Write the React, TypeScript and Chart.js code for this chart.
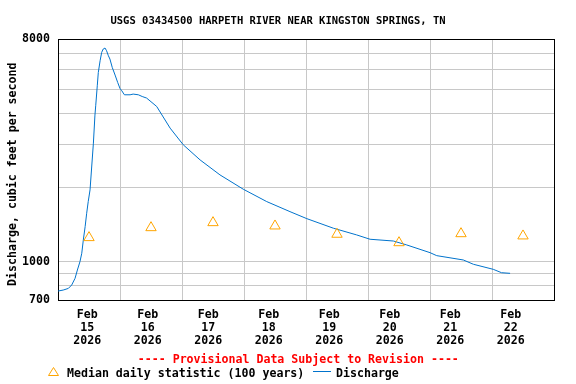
import React, { useEffect, useRef } from 'react';
import { Chart, registerables } from 'chart.js';

Chart.register(...registerables);

const TITLE = 'USGS 03434500 HARPETH RIVER NEAR KINGSTON SPRINGS, TN';
const Y_TITLE = 'Discharge, cubic feet per second';
const PROVISIONAL = '---- Provisional Data Subject to Revision ----';
const LEGEND_MEDIAN = 'Median daily statistic (100 years)';
const LEGEND_DISCHARGE = 'Discharge';

const DAY_MONTH = 'Feb';
const DAY_NUMBERS = ['15', '16', '17', '18', '19', '20', '21', '22'];
const DAY_YEAR = '2026';

// Median daily statistic, one per day (plotted at noon)
const MEDIAN_CFS = [1253, 1375, 1441, 1397, 1293, 1195, 1300, 1273];

// Discharge: hours since Feb 15 00:00, cfs
const DISCHARGE_HOURS = [
  0, 2, 4, 5.3, 6.6, 7.5, 8.5, 9.2, 9.8, 10.5, 11.1, 11.7, 12.4, 13.7, 14.3, 14.6,
  15.2, 15.6, 16.3, 16.9, 17.5, 18.2, 18.8, 19.5, 20.1, 21, 22.1, 23.1, 24, 24.7,
  25.7, 27.9, 29.1, 31.1, 32.6, 34.3, 38.2, 43.4, 48.5, 55, 62.7, 71.7, 80.8, 89.8,
  96.3, 106.6, 115.6, 120.8, 129.8, 135, 144, 146.6, 156.9, 160.8, 168.5, 171.7, 175,
];
const DISCHARGE_CFS = [
  761, 768, 780, 805, 857, 926, 1001, 1083, 1226, 1388, 1573, 1754, 1956, 3027, 3932, 4289,
  5170, 5853, 6530, 7058, 7285, 7354, 7170, 6843, 6634, 6134, 5713, 5333, 5040, 4934,
  4753, 4753, 4784, 4753, 4677, 4610, 4262, 3482, 2979, 2588, 2250, 1969, 1754, 1597,
  1496, 1368, 1285, 1234, 1214, 1170, 1089, 1059, 1017, 977, 932, 903, 898,
];

const Y_GRID_VALUES = [700, 800, 900, 1000, 2000, 3000, 4000, 5000, 6000, 7000, 8000];
const Y_LABELED = [700, 1000, 8000];

const X_MIN = 0;
const X_MAX = DAY_NUMBERS.length * 24;
const LABEL_START_H = 11.34;
const LABEL_STEP_H = 23.42;

const FONT_FAMILY = '"DejaVu Sans Mono", monospace';
const LINE_COLOR = 'rgb(0,115,204)';
const MEDIAN_COLOR = '#ffa500';
const GRID_COLOR = 'rgb(200,200,200)';

const labelPositions = DAY_NUMBERS.map((_, i) => LABEL_START_H + LABEL_STEP_H * i);
const gridPositions = Array.from({ length: DAY_NUMBERS.length + 1 }, (_, i) => i * 24);

const textPlugin = {
  id: 'usgsText',
  afterDraw(chart: any) {
    const ctx = chart.ctx as CanvasRenderingContext2D;
    ctx.save();
    ctx.fillStyle = '#000';
    ctx.textBaseline = 'alphabetic';
    ctx.textAlign = 'center';
    ctx.font = `bold 10.5px ${FONT_FAMILY}`;
    ctx.fillText(TITLE, 278, 24);

    ctx.font = `bold 11.6px ${FONT_FAMILY}`;
    ctx.save();
    ctx.translate(16, 174.2);
    ctx.rotate(-Math.PI / 2);
    ctx.fillText(Y_TITLE, 0, 0);
    ctx.restore();

    ctx.fillStyle = '#ff0000';
    ctx.fillText(PROVISIONAL, 298.3, 363);

    // legend
    ctx.strokeStyle = MEDIAN_COLOR;
    ctx.lineWidth = 1;
    ctx.beginPath();
    ctx.moveTo(53.5, 367.5);
    ctx.lineTo(48.5, 375.5);
    ctx.lineTo(58.5, 375.5);
    ctx.closePath();
    ctx.stroke();

    ctx.fillStyle = '#000';
    ctx.textAlign = 'left';
    ctx.fillText(LEGEND_MEDIAN, 67, 377);

    ctx.strokeStyle = LINE_COLOR;
    ctx.beginPath();
    ctx.moveTo(313, 371.5);
    ctx.lineTo(331, 371.5);
    ctx.stroke();

    ctx.fillText(LEGEND_DISCHARGE, 336, 377);
    ctx.restore();
  },
};

export default function App() {
  const canvasRef = useRef<HTMLCanvasElement | null>(null);

  useEffect(() => {
    const canvas = canvasRef.current;
    if (!canvas) return;
    const dischargeData = DISCHARGE_HOURS.map((h, i) => ({ x: h, y: DISCHARGE_CFS[i] }));
    const medianData = MEDIAN_CFS.map((v, i) => ({ x: i * 24 + 12, y: v }));
    const tickFont = { family: FONT_FAMILY, size: 11.6, weight: 'bold' as const, lineHeight: '13px' };

    const chart = new Chart(canvas, {
      type: 'scatter',
      data: {
        datasets: [
          {
            type: 'line',
            label: LEGEND_DISCHARGE,
            data: dischargeData,
            borderColor: LINE_COLOR,
            borderWidth: 1,
            pointRadius: 0,
            tension: 0,
            fill: false,
            order: 2,
          },
          {
            type: 'scatter',
            label: LEGEND_MEDIAN,
            data: medianData,
            pointStyle: 'triangle',
            pointRadius: 6,
            borderColor: MEDIAN_COLOR,
            backgroundColor: 'rgba(0,0,0,0)',
            borderWidth: 1,
            order: 1,
          },
        ],
      },
      options: {
        responsive: false,
        animation: false,
        devicePixelRatio: 1,
        layout: { padding: { left: 0, right: 22, top: 39, bottom: 0 } },
        plugins: {
          legend: { display: false },
          title: { display: false },
          tooltip: { enabled: false },
        },
        scales: {
          x: {
            type: 'linear',
            min: X_MIN,
            max: X_MAX,
            afterBuildTicks: (scale: any) => {
              const vals = [...gridPositions, ...labelPositions].sort((a, b) => a - b);
              scale.ticks = vals.map((v) => ({ value: v }));
            },
            afterFit: (scale: any) => {
              scale.height = 84;
            },
            ticks: {
              autoSkip: false,
              maxRotation: 0,
              minRotation: 0,
              padding: 8,
              color: '#000',
              font: tickFont,
              callback: (value: any) => {
                const i = labelPositions.findIndex((p) => Math.abs(p - Number(value)) < 1e-6);
                return i >= 0 ? [DAY_MONTH, DAY_NUMBERS[i], DAY_YEAR] : '';
              },
            },
            grid: {
              drawTicks: false,
              lineWidth: 1,
              color: (ctx: any) => {
                const v = ctx.tick ? ctx.tick.value : 0;
                if (labelPositions.some((p) => Math.abs(p - v) < 1e-6)) return 'rgba(0,0,0,0)';
                if (v === X_MIN || v === X_MAX) return '#000';
                return GRID_COLOR;
              },
            },
            border: { display: true, color: '#000', width: 1 },
          },
          y: {
            type: 'logarithmic',
            min: 700,
            max: 8000,
            afterBuildTicks: (scale: any) => {
              scale.ticks = Y_GRID_VALUES.map((v) => ({ value: v }));
            },
            afterFit: (scale: any) => {
              scale.width = 58;
            },
            ticks: {
              autoSkip: false,
              padding: 8,
              color: '#000',
              font: tickFont,
              callback: (value: any) => (Y_LABELED.includes(Number(value)) ? String(value) : ''),
            },
            grid: {
              drawTicks: false,
              lineWidth: 1,
              color: (ctx: any) => {
                const v = ctx.tick ? ctx.tick.value : 0;
                if (v === 700 || v === 8000) return '#000';
                return GRID_COLOR;
              },
            },
            border: { display: true, color: '#000', width: 1 },
          },
        },
      },
      plugins: [textPlugin],
    });

    return () => {
      chart.destroy();
    };
  }, []);

  return (
    <div style={{ position: 'absolute', left: 0, top: 0, width: 576, height: 384, background: '#fff' }}>
      <canvas ref={canvasRef} width={576} height={384} style={{ display: 'block' }} />
    </div>
  );
}
